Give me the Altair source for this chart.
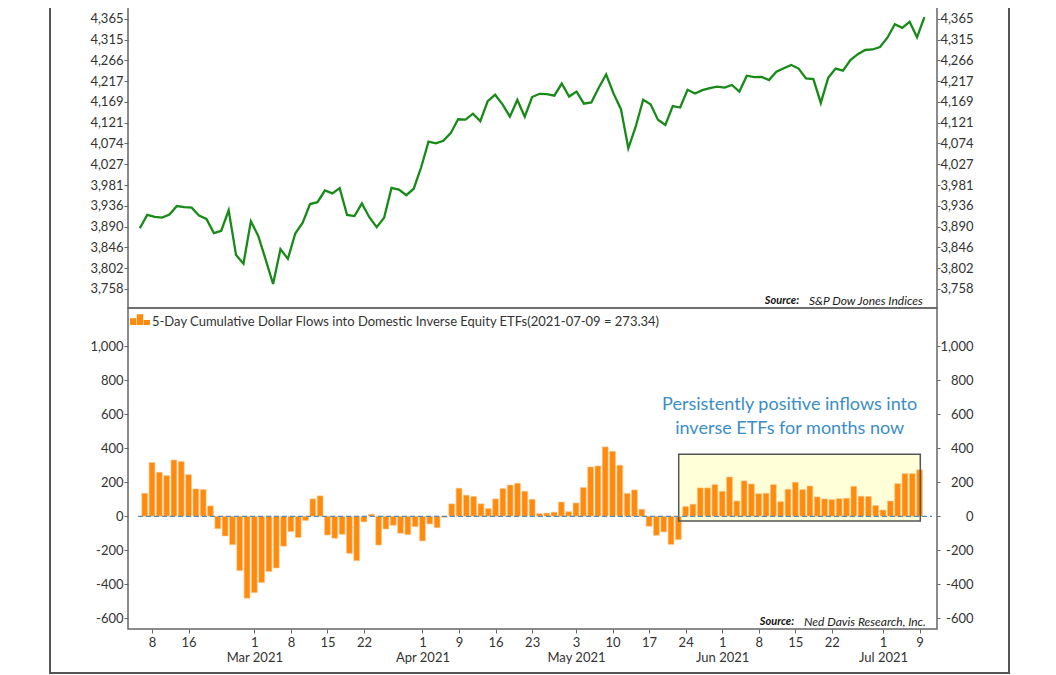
import altair as alt
import pandas as pd

# ---------------- data ----------------
holidays = ["2021-02-15", "2021-04-02", "2021-05-31", "2021-07-05"]
date_strs = [d.strftime("%Y-%m-%d") for d in pd.bdate_range("2021-02-05", "2021-07-09")
             if d.strftime("%Y-%m-%d") not in holidays]

spx = [
    3886.83, 3915.59, 3911.23, 3909.88, 3916.38, 3934.83, 3932.59, 3931.33, 3913.97, 3906.71,
    3876.50, 3881.37, 3925.43, 3829.34, 3811.15,
    3901.82, 3870.29, 3819.72, 3768.47, 3841.94, 3821.35, 3875.44, 3898.81, 3939.34, 3943.34,
    3968.94, 3962.71, 3974.12, 3915.46, 3913.10, 3940.59, 3910.52, 3889.14, 3909.52, 3974.54,
    3971.09, 3958.55, 3972.89,
    4019.87, 4077.91, 4073.94, 4079.95, 4097.17, 4128.80, 4127.99, 4141.59, 4124.66, 4170.42,
    4185.47, 4163.26, 4134.94, 4173.42, 4134.98, 4180.17, 4187.62, 4186.72, 4183.18, 4211.47,
    4181.17,
    4192.66, 4164.66, 4167.59, 4201.62, 4232.60, 4188.43, 4152.10, 4063.04, 4112.50, 4173.85,
    4163.29, 4127.83, 4115.68, 4159.12, 4155.86, 4197.05, 4188.13, 4195.99, 4200.88, 4204.11,
    4202.04, 4208.12, 4192.85, 4229.89, 4226.52, 4227.26, 4219.55, 4239.18, 4247.44, 4255.15,
    4246.59, 4223.70, 4221.86, 4166.45, 4224.79, 4246.44, 4241.84, 4266.49, 4280.70, 4290.61,
    4291.80, 4297.50,
    4319.94, 4352.34, 4343.54, 4358.13, 4320.82, 4369.55,
]

flows = [
    135, 316, 259, 239, 331, 322, 245, 161, 157, 61,
    -73, -116, -167, -320, -482, -449, -390, -325, -304, -176,
    -90, -125, -25, 102, 120, -110, -129, -106, -218, -261,
    -33, 12, -169, -75, -53, -100, -108, -61, -145, -45,
    -67, -6, 73, 165, 124, 116, 73, 45, 102, 163,
    184, 194, 147, 100, 16, 18, 24, 84, 27, 78,
    169, 290, 296, 408, 382, 300, 135, 155, 41, -59,
    -112, -92, -165, -137, 57, 71, 167, 167, 186, 147,
    231, 90, 208, 190, 133, 135, 186, 86, 159, 200,
    157, 178, 114, 102, 98, 104, 106, 176, 118, 116,
    63, 37, 90, 192, 251, 251, 273,
]

spx_ticks = [3758, 3802, 3846, 3890, 3936, 3981, 4027, 4074, 4121, 4169, 4217, 4266, 4315, 4365]
flow_ticks = [-600, -400, -200, 0, 200, 400, 600, 800, 1000]

tick_dates = ["2021-02-08", "2021-02-16", "2021-03-01", "2021-03-08", "2021-03-15", "2021-03-22",
              "2021-04-01", "2021-04-09", "2021-04-16", "2021-04-23", "2021-05-03", "2021-05-10",
              "2021-05-17", "2021-05-24", "2021-06-01", "2021-06-08", "2021-06-15", "2021-06-22",
              "2021-07-01", "2021-07-09"]
month_labels = {"2021-03-01": "Mar 2021", "2021-04-01": "Apr 2021", "2021-05-03": "May 2021",
                "2021-06-01": "Jun 2021", "2021-07-01": "Jul 2021"}

annot_lines = ["Persistently positive inflows into", "inverse ETFs for months now"]
top_legend = "S&P 500 Index (2021-07-09 = 4,369.55)"
bot_legend = "5-Day Cumulative Dollar Flows into Domestic Inverse Equity ETFs(2021-07-09 = 273.34)"

assert len(date_strs) == len(spx) == len(flows)
n = len(date_strs)
df = pd.DataFrame({"idx": list(range(n)), "date": date_strs, "spx": spx, "flow": flows})

# ---------------- styling ----------------
GREEN = "#178A17"
ORANGE = "#FF8A0C"
BLUE = "#3A8DC8"
GRID = "#666666"
TXT = "#333333"
FRAME = "#555555"
W, H = 809, 321

xs = alt.Scale(domain=[-1.6, 107.7], nice=False, zero=False)
ys_top = alt.Scale(type="log", domain=[3718.6, 4443.1], nice=False, zero=False)
ys_bot = alt.Scale(type="linear", domain=[-663, 1225], nice=False, zero=False)

tick_idx = [date_strs.index(d) for d in tick_dates]
expr = "''"
for d in reversed(tick_dates):
    i = date_strs.index(d)
    day = str(int(d[-2:]))
    lab = f"['{day}','{month_labels[d]}']" if d in month_labels else f"'{day}'"
    expr = f"datum.value == {i} ? {lab} : ({expr})"

NUMFMT = "replace(format(datum.value, ','), '\u2212', '-')"


def yaxis(values, orient):
    if orient == "left":
        return alt.Axis(orient="left", values=values, labelExpr=NUMFMT, title=None, labelAlign="right",
                        tickSize=4, labelPadding=1, domain=False, grid=False, labelOverlap=False)
    return alt.Axis(orient="right", values=values, labelExpr=NUMFMT, title=None, labelAlign="right",
                    tickSize=3, labelPadding=33, domain=False, grid=False, labelOverlap=False)


one = pd.DataFrame({"a": [0]})

# ---------------- top panel ----------------
line = alt.Chart(df).mark_line(color=GREEN, strokeWidth=2.3).encode(
    x=alt.X("idx:Q", scale=xs, axis=None),
    y=alt.Y("spx:Q", scale=ys_top, axis=yaxis(spx_ticks, "left")),
)
line_r = alt.Chart(df).mark_line(opacity=0).encode(
    x=alt.X("idx:Q", scale=xs, axis=None),
    y=alt.Y("spx:Q", scale=ys_top, axis=yaxis(spx_ticks, "right")),
)
leg_line = alt.Chart(one).mark_rule(color=GREEN, strokeWidth=2).encode(
    x=alt.value(2), x2=alt.value(22), y=alt.value(14))
leg_text_top = alt.Chart(one).mark_text(align="left", baseline="middle", fontSize=13, color=TXT).encode(
    x=alt.value(24), y=alt.value(14), text=alt.value(top_legend))
src1a = alt.Chart(one).mark_text(align="right", baseline="middle", fontSize=11, fontStyle="italic",
                                 fontWeight="bold", color="#111").encode(
    x=alt.value(671), y=alt.value(314), text=alt.value("Source:"))
src1b = alt.Chart(one).mark_text(align="left", baseline="middle", fontSize=12, fontStyle="italic",
                                 color="#222").encode(
    x=alt.value(681), y=alt.value(314), text=alt.value("S&P Dow Jones Indices"))

top = alt.layer(line, line_r, leg_line, leg_text_top, src1a, src1b).resolve_axis(
    y="independent").properties(width=W, height=H)

# ---------------- bottom panel ----------------
hl = pd.DataFrame({"x1": [73.05], "x2": [106.1], "y1": [-28], "y2": [365]})
hl_fill = alt.Chart(hl).mark_rect(fill="#FFFFD8").encode(
    x=alt.X("x1:Q", scale=xs, axis=None), x2="x2:Q",
    y=alt.Y("y1:Q", scale=ys_bot, axis=None), y2="y2:Q")
hl_stroke = alt.Chart(hl).mark_rect(filled=False, stroke=FRAME, strokeWidth=1.5).encode(
    x=alt.X("x1:Q", scale=xs, axis=None), x2="x2:Q",
    y=alt.Y("y1:Q", scale=ys_bot, axis=None), y2="y2:Q")

xaxis = alt.Axis(values=tick_idx, labelExpr=expr, title=None, tickSize=4, labelPadding=3,
                 domain=False, grid=False, labelFlush=False, labelOverlap=False,
                 labelLineHeight=15.6, labelBaseline="top", orient="bottom")
bars = alt.Chart(df).mark_bar(color=ORANGE, size=5.8, stroke="#FFC58A", strokeWidth=0.6).encode(
    x=alt.X("idx:Q", scale=xs, axis=xaxis),
    y=alt.Y("flow:Q", scale=ys_bot, axis=yaxis(flow_ticks, "left")),
    y2=alt.datum(0),
)
bars_r = alt.Chart(df).mark_bar(opacity=0).encode(
    x=alt.X("idx:Q", scale=xs, axis=None),
    y=alt.Y("flow:Q", scale=ys_bot, axis=yaxis(flow_ticks, "right")),
)
zero = alt.Chart(pd.DataFrame({"z": [0]})).mark_rule(color="#4D8FC0", strokeDash=[5, 3], strokeWidth=1.3).encode(
    y=alt.Y("z:Q", scale=ys_bot, axis=None), x=alt.value(10), x2=alt.value(804))
annot = alt.Chart(pd.DataFrame({"x": [88.23, 88.23], "y": [655, 514], "t": annot_lines})).mark_text(
    fontSize=18, color=BLUE, align="center", baseline="middle").encode(
    x=alt.X("x:Q", scale=xs, axis=None), y=alt.Y("y:Q", scale=ys_bot, axis=None), text="t:N")
BAR_ICON = ("M-1,0.53 L-1,-0.14 L-0.38,-0.14 L-0.38,0.53 Z "
            "M-0.32,0.53 L-0.32,-0.55 L0.32,-0.55 L0.32,0.53 Z "
            "M0.38,0.53 L0.38,0.03 L1,0.03 L1,0.53 Z")
leg_bar = alt.Chart(one).mark_point(shape=BAR_ICON, filled=True, size=400, color=ORANGE, opacity=1).encode(
    x=alt.value(12), y=alt.value(11.7))
leg_text_bot = alt.Chart(one).mark_text(align="left", baseline="middle", fontSize=13, color=TXT).encode(
    x=alt.value(24), y=alt.value(13.7), text=alt.value(bot_legend))
src2a = alt.Chart(one).mark_text(align="right", baseline="middle", fontSize=11, fontStyle="italic",
                                 fontWeight="bold", color="#111").encode(
    x=alt.value(666), y=alt.value(314), text=alt.value("Source:"))
src2b = alt.Chart(one).mark_text(align="left", baseline="middle", fontSize=12, fontStyle="italic",
                                 color="#222").encode(
    x=alt.value(676), y=alt.value(314), text=alt.value("Ned Davis Research, Inc."))
# outer frame: left, right and bottom sides (top lies above the visible page)
frame_l = alt.Chart(one).mark_rule(color=FRAME, strokeWidth=2).encode(
    x=alt.value(-78), y=alt.value(-321), y2=alt.value(365))
frame_r = alt.Chart(one).mark_rule(color=FRAME, strokeWidth=2).encode(
    x=alt.value(881), y=alt.value(-321), y2=alt.value(365))
frame_b = alt.Chart(one).mark_rule(color=FRAME, strokeWidth=2).encode(
    x=alt.value(-79), x2=alt.value(882), y=alt.value(365))

bot = alt.layer(hl_fill, bars, bars_r, hl_stroke, zero, annot, leg_bar, leg_text_bot,
                src2a, src2b, frame_l, frame_r, frame_b).resolve_axis(
    x="independent", y="independent").properties(width=W, height=H)

chart = alt.vconcat(top, bot, spacing=0, bounds="flush").resolve_scale(y="independent").properties(
    padding={"top": -23, "left": 39, "right": 0, "bottom": 0}
).configure(font="Lato").configure_view(stroke=GRID, strokeWidth=1.5).configure_axis(
    labelFont="Lato", labelFontSize=13, labelColor=TXT, tickColor=GRID, tickWidth=1)

chart.save("out.html", embed_options={"renderer": "svg", "actions": False})
